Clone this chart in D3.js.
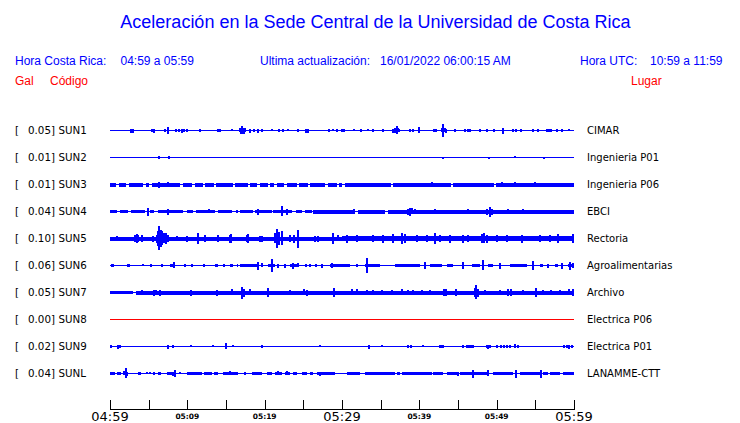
<!DOCTYPE html>
<html><head><meta charset="utf-8">
<script src="https://cdn.jsdelivr.net/npm/d3@7"></script>
<style>html,body{margin:0;padding:0;background:#fff;}svg{display:block;}</style>
</head><body>
<svg id="chart" width="740" height="423"></svg>
<script>
// ---------------- DATA ----------------
const stations = ["SUN1","SUN2","SUN3","SUN4","SUN5","SUN6","SUN7","SUN8","SUN9","SUNL"];
const places = ["CIMAR","Ingenieria P01","Ingenieria P06","EBCI","Rectoria","Agroalimentarias","Archivo","Electrica P06","Electrica P01","LANAMME-CTT"];
const peakGal = [0.05,0.01,0.01,0.04,0.10,0.06,0.05,0.00,0.02,0.04];
const tickMinutes = [0,5,10,15,20,25,30,35,40,45,50,55,60];
const tickLabels = {0:"04:59",10:"05:09",20:"05:19",30:"05:29",40:"05:39",50:"05:49",60:"05:59"};
const majorLabels = [0,30,60];

// continuous noise bands: [start minute, end minute, half amplitude gal]
const bandSUN1 = [];
const bandSUN2 = [];
const bandSUN3 = [[0,0.75,0.013],[1.1,2.1,0.013],[2.4,4.3,0.013],[4.6,5.1,0.013],[5.4,9.1,0.013],[9.4,10.65,0.013],[10.95,12.0,0.013],[12.3,13.45,0.013],[13.75,15.9,0.013],[16.2,17.8,0.013],[18.1,19.05,0.013],[19.35,20.4,0.013],[20.7,21.25,0.013],[21.55,22.55,0.013],[22.85,24.15,0.013],[24.45,25.55,0.013],[25.85,27.85,0.013],[28.15,29.3,0.013],[29.6,30.05,0.013],[30.35,36.3,0.013],[36.55,44.05,0.013],[44.35,49.65,0.013],[49.95,60,0.013]];
const bandSUN4 = [[0,0.86,0.01],[1.29,2.37,0.01],[2.7,4.52,0.01],[5.17,5.73,0.01],[6.16,9.48,0.01],[9.9,10.77,0.01],[11.07,13.57,0.01],[14.0,15.73,0.01],[16.25,16.6,0.01],[16.8,18.5,0.01],[18.75,20.9,0.01],[21.1,23.5,0.01],[24.1,24.8,0.01],[25.2,26.07,0.01],[26.3,31.68,0.012],[32.1,35.56,0.012],[36.0,60,0.012]];
const bandSUN5 = [[0,30,0.013],[30,60,0.018]];
const bandSUN6 = [[0.13,0.56,0.01],[2.15,2.58,0.01],[5.17,5.38,0.01],[7.75,8.4,0.01],[13.57,14.0,0.01],[15.5,15.94,0.01],[16.38,16.6,0.01],[16.8,18.96,0.01],[20.47,21.33,0.01],[23.27,24.13,0.01],[28.45,31.03,0.01],[32.97,34.9,0.01],[36.85,40.1,0.01],[41.4,42.9,0.01],[43.53,44.4,0.01],[46.77,47.85,0.01],[48.92,49.57,0.01],[51.72,53.88,0.01],[55.6,56.03,0.01],[57.54,57.97,0.01],[59.27,60,0.01]];
const bandSUN7 = [[0,3.0,0.009],[3.3,60,0.012]];
const bandSUN8 = [];
const bandSUN9 = [];
const bandSUNL = [[0,0.64,0.01],[0.86,1.42,0.01],[1.72,2.15,0.01],[3.66,4.0,0.01],[5.6,5.82,0.01],[6.25,6.59,0.01],[7.32,7.97,0.01],[9.9,11.85,0.01],[12.2,13.14,0.01],[14.65,16.6,0.01],[18.32,19.6,0.01],[20.25,20.9,0.01],[21.33,22.2,0.01],[22.63,23.27,0.01],[23.7,24.13,0.01],[24.78,25.43,0.01],[25.86,26.29,0.01],[26.72,29.09,0.01],[30.6,32.33,0.01],[32.97,36.85,0.01],[37.07,37.5,0.01],[37.71,41.59,0.01],[41.81,43.1,0.01],[43.53,44.83,0.01],[45.26,48.7,0.01],[49.57,52.15,0.01],[53.0,55.6,0.01],[56.03,56.68,0.01],[56.9,58.2,0.01],[58.62,60,0.01]];

// individual bursts / spikes: [minute, half amplitude gal]
const spikeSUN1 = [[2.7,0.012],[3.0,0.012],[5.4,0.01],[5.7,0.012],[7.1,0.01],[7.5,0.026],[8.5,0.008],[8.9,0.01],[9.35,0.012],[9.6,0.01],[10.0,0.01],[11.7,0.008],[14.0,0.01],[14.2,0.01],[15.8,0.006],[16.8,0.015],[16.9,0.02],[17.1,0.032],[17.3,0.02],[17.45,0.015],[18.1,0.012],[18.6,0.01],[19.1,0.012],[19.6,0.008],[21.0,0.005],[21.9,0.008],[22.4,0.008],[22.97,0.006],[24.35,0.01],[25.35,0.012],[25.65,0.012],[28.3,0.01],[28.8,0.006],[29.3,0.008],[29.95,0.01],[30.26,0.008],[31.55,0.006],[32.4,0.008],[33.3,0.006],[34.05,0.008],[35.25,0.008],[36.64,0.012],[36.85,0.018],[37.07,0.032],[37.28,0.015],[37.4,0.01],[38.8,0.008],[39.14,0.01],[39.95,0.022],[41.9,0.01],[42.15,0.01],[42.9,0.015],[43.1,0.05],[43.3,0.015],[43.5,0.012],[44.6,0.01],[45.9,0.008],[46.25,0.01],[46.55,0.01],[47.85,0.008],[48.7,0.01],[49.6,0.01],[50.87,0.02],[52.07,0.008],[52.5,0.01],[53.2,0.008],[54.65,0.01],[55.4,0.01],[56.55,0.01],[56.8,0.01],[57.0,0.01],[57.8,0.008],[58.4,0.008],[59.4,0.006]];
const spikeSUN2 = [[6.38,0.01],[7.59,0.008],[43.1,0.004],[49.0,0.004],[52.4,0.006],[56.1,0.004]];
const spikeSUN3 = [[6.4,0.02],[7.55,0.018],[41.6,0.016],[50.7,0.018],[52.4,0.015],[54.95,0.014]];
const spikeSUN4 = [[4.95,0.029],[7.54,0.02],[12.8,0.015],[19.1,0.02],[22.3,0.04],[22.84,0.02],[31.55,0.014],[38.58,0.02],[38.8,0.03],[39.0,0.022],[39.44,0.016],[42.0,0.014],[42.67,0.012],[46.3,0.014],[48.7,0.02],[49.14,0.038],[49.35,0.02],[51.5,0.014],[53.36,0.014],[54.2,0.013]];
const spikeSUN5 = [[0.86,0.018],[3.23,0.025],[3.45,0.035],[3.66,0.028],[4.1,0.025],[5.6,0.02],[6.03,0.03],[6.25,0.06],[6.38,0.10],[6.55,0.07],[6.76,0.058],[7.02,0.04],[7.3,0.043],[7.54,0.025],[8.62,0.018],[9.9,0.02],[11.33,0.043],[12.28,0.025],[14.0,0.025],[15.5,0.03],[15.65,0.035],[17.67,0.025],[17.9,0.035],[19.4,0.02],[19.6,0.02],[21.33,0.04],[21.63,0.08],[21.9,0.05],[22.2,0.058],[23.27,0.025],[23.83,0.03],[24.35,0.072],[26.5,0.02],[26.9,0.02],[28.87,0.043],[29.52,0.022],[30.6,0.03],[31.9,0.025],[34.05,0.025],[35.34,0.03],[36.64,0.035],[37.7,0.045],[38.15,0.035],[39.65,0.025],[40.95,0.025],[42.0,0.045],[42.67,0.025],[43.96,0.03],[45.7,0.03],[46.33,0.025],[48.06,0.035],[48.36,0.04],[48.7,0.03],[50.0,0.025],[51.3,0.025],[53.23,0.03],[55.6,0.025],[56.9,0.025],[57.97,0.035],[59.9,0.035]];
const spikeSUN6 = [[4.3,0.006],[6.76,0.008],[8.27,0.023],[9.7,0.01],[10.64,0.01],[12.2,0.008],[14.78,0.01],[19.1,0.03],[19.6,0.015],[20.9,0.05],[21.76,0.012],[22.6,0.012],[23.7,0.02],[24.26,0.015],[25.4,0.01],[25.86,0.01],[26.6,0.01],[27.37,0.012],[28.66,0.018],[31.9,0.01],[33.2,0.06],[40.73,0.025],[45.7,0.025],[48.27,0.04],[50.43,0.02],[54.74,0.035],[56.68,0.012],[58.4,0.02],[59.48,0.03],[59.9,0.018]];
const spikeSUN7 = [[4.1,0.018],[5.73,0.02],[5.9,0.018],[6.46,0.02],[10.47,0.02],[13.79,0.02],[15.8,0.023],[17.02,0.047],[17.2,0.03],[17.37,0.03],[18.1,0.023],[20.47,0.035],[23.27,0.018],[25.13,0.023],[25.43,0.02],[29.0,0.035],[31.25,0.023],[31.9,0.023],[33.2,0.016],[34.05,0.016],[35.13,0.016],[36.42,0.016],[37.7,0.023],[38.58,0.018],[39.2,0.016],[40.3,0.016],[41.4,0.016],[43.2,0.028],[43.45,0.025],[44.74,0.028],[47.2,0.035],[47.37,0.058],[47.54,0.03],[48.5,0.018],[50.43,0.018],[51.5,0.025],[51.8,0.028],[53.36,0.018],[55.1,0.035],[56.03,0.018],[57.0,0.018],[58.2,0.018],[59.4,0.023],[59.9,0.028]];
const spikeSUN8 = [];
const spikeSUN9 = [[0.13,0.008],[0.99,0.012],[1.29,0.008],[7.54,0.012],[8.19,0.008],[10.43,0.006],[13.36,0.006],[14.95,0.023],[15.94,0.006],[19.6,0.008],[27.16,0.006],[33.53,0.012],[35.12,0.006],[38.58,0.008],[38.88,0.008],[40.5,0.006],[42.7,0.01],[42.85,0.01],[43.0,0.01],[45.61,0.008],[46.1,0.01],[46.4,0.01],[46.7,0.01],[47.0,0.008],[48.71,0.01],[48.9,0.012],[49.14,0.01],[49.99,0.008],[50.6,0.008],[51.0,0.01],[51.3,0.008],[51.7,0.01],[52.4,0.015],[52.8,0.008],[58.7,0.008],[59.1,0.01],[59.4,0.012],[59.7,0.01]];
const spikeSUNL = [[1.85,0.015],[2.02,0.04],[2.2,0.012],[4.74,0.006],[5.17,0.006],[8.19,0.012],[8.4,0.025],[9.05,0.006],[13.57,0.008],[13.79,0.008],[15.5,0.014],[17.45,0.008],[19.4,0.01],[21.76,0.015],[22.84,0.014],[27.15,0.012],[45.04,0.012],[46.9,0.03],[48.92,0.022],[52.45,0.03],[55.78,0.03]];

const bands = [bandSUN1,bandSUN2,bandSUN3,bandSUN4,bandSUN5,bandSUN6,bandSUN7,bandSUN8,bandSUN9,bandSUNL];
const spikes = [spikeSUN1,spikeSUN2,spikeSUN3,spikeSUN4,spikeSUN5,spikeSUN6,spikeSUN7,spikeSUN8,spikeSUN9,spikeSUNL];

// ---------------- DRAW ----------------
const BLUE = "#0000ff", RED = "#ff0000";
const svg = d3.select("#chart");
const x = d3.scaleLinear().domain([0,60]).range([110,574]);
const y = d3.scalePoint().domain(stations).range([130,373]);
const a = d3.scaleLinear().domain([0,0.1]).range([0,11.5]);

const sans = "'Liberation Sans', Arial, Helvetica, sans-serif";
const dv = "'DejaVu Sans', sans-serif";

svg.append("text").attr("x",375.5).attr("y",28).attr("text-anchor","middle")
  .attr("font-family",sans).attr("font-size",18).attr("fill",BLUE)
  .text("Aceleración en la Sede Central de la Universidad de Costa Rica");

const hdr = [["Hora Costa Rica:",15],["04:59 a 05:59",120.5],["Ultima actualización:",260],["16/01/2022 06:00:15 AM",380],["Hora UTC:",580],["10:59 a 11:59",650]];
svg.selectAll("text.hdr").data(hdr).join("text").attr("class","hdr")
  .attr("x",d=>d[1]).attr("y",65).attr("font-family",sans).attr("font-size",12).attr("fill",BLUE).text(d=>d[0]);
const red = [["Gal",15],["Código",50],["Lugar",631]];
svg.selectAll("text.red").data(red).join("text").attr("class","red")
  .attr("x",d=>d[1]).attr("y",85).attr("font-family",sans).attr("font-size",12).attr("fill",RED).text(d=>d[0]);

const rows = svg.selectAll("g.row").data(stations).join("g").attr("class","row");
rows.each(function(s,i){
  const g = d3.select(this);
  const b = y(s);
  const col = peakGal[i] === 0 ? RED : BLUE;
  g.append("text").attr("x",15).attr("y",b+4).attr("font-family",dv).attr("font-size",10.3).attr("fill","#000").text("[");
  g.append("text").attr("x",55).attr("y",b+4).attr("text-anchor","end").attr("font-family",dv).attr("font-size",10.3).attr("fill","#000").text(peakGal[i].toFixed(2)+"]");
  g.append("text").attr("x",58.5).attr("y",b+4).attr("font-family",dv).attr("font-size",10.3).attr("fill","#000").text(s);
  g.append("text").attr("x",587).attr("y",b+4).attr("font-family",dv).attr("font-size",10).attr("fill","#000").text(places[i]);
  // baseline
  g.append("rect").attr("x",x(0)).attr("y",b).attr("width",x(60)-x(0)).attr("height",1).attr("fill",col).attr("shape-rendering","crispEdges");
  // noise bands
  g.selectAll("rect.band").data(bands[i]).join("rect").attr("class","band")
    .attr("x",d=>Math.round(x(d[0]))).attr("width",d=>Math.max(1,Math.round(x(d[1]))-Math.round(x(d[0]))))
    .attr("y",d=>b-Math.round(a(d[2]))).attr("height",d=>Math.round(2*a(d[2]))+1)
    .attr("fill",col).attr("shape-rendering","crispEdges");
  // spikes
  g.selectAll("rect.spk").data(spikes[i]).join("rect").attr("class","spk")
    .attr("x",d=>Math.round(x(d[0]))-1).attr("width",2)
    .attr("y",d=>b-Math.round(a(d[1]))).attr("height",d=>Math.round(2*a(d[1]))+1)
    .attr("fill",col).attr("shape-rendering","crispEdges");
});

// time axis
const ax = svg.append("g").attr("shape-rendering","crispEdges");
ax.append("line").attr("x1",x(0)).attr("x2",x(60)+1).attr("y1",409.5).attr("y2",409.5).attr("stroke","#000");
ax.selectAll("line.tk").data(tickMinutes).join("line").attr("class","tk")
  .attr("x1",d=>Math.round(x(d))+0.5).attr("x2",d=>Math.round(x(d))+0.5).attr("y1",400).attr("y2",409).attr("stroke","#000");
svg.selectAll("text.tl").data(Object.keys(tickLabels).map(Number)).join("text").attr("class","tl")
  .attr("x",d=>x(d)).attr("text-anchor","middle")
  .attr("y",d=>majorLabels.includes(d)?421:419)
  .attr("font-family",dv)
  .attr("font-size",d=>majorLabels.includes(d)?13:7.5)
  .attr("font-weight",d=>majorLabels.includes(d)?"normal":"bold")
  .attr("fill","#000").text(d=>tickLabels[d]);
</script>
</body></html>
